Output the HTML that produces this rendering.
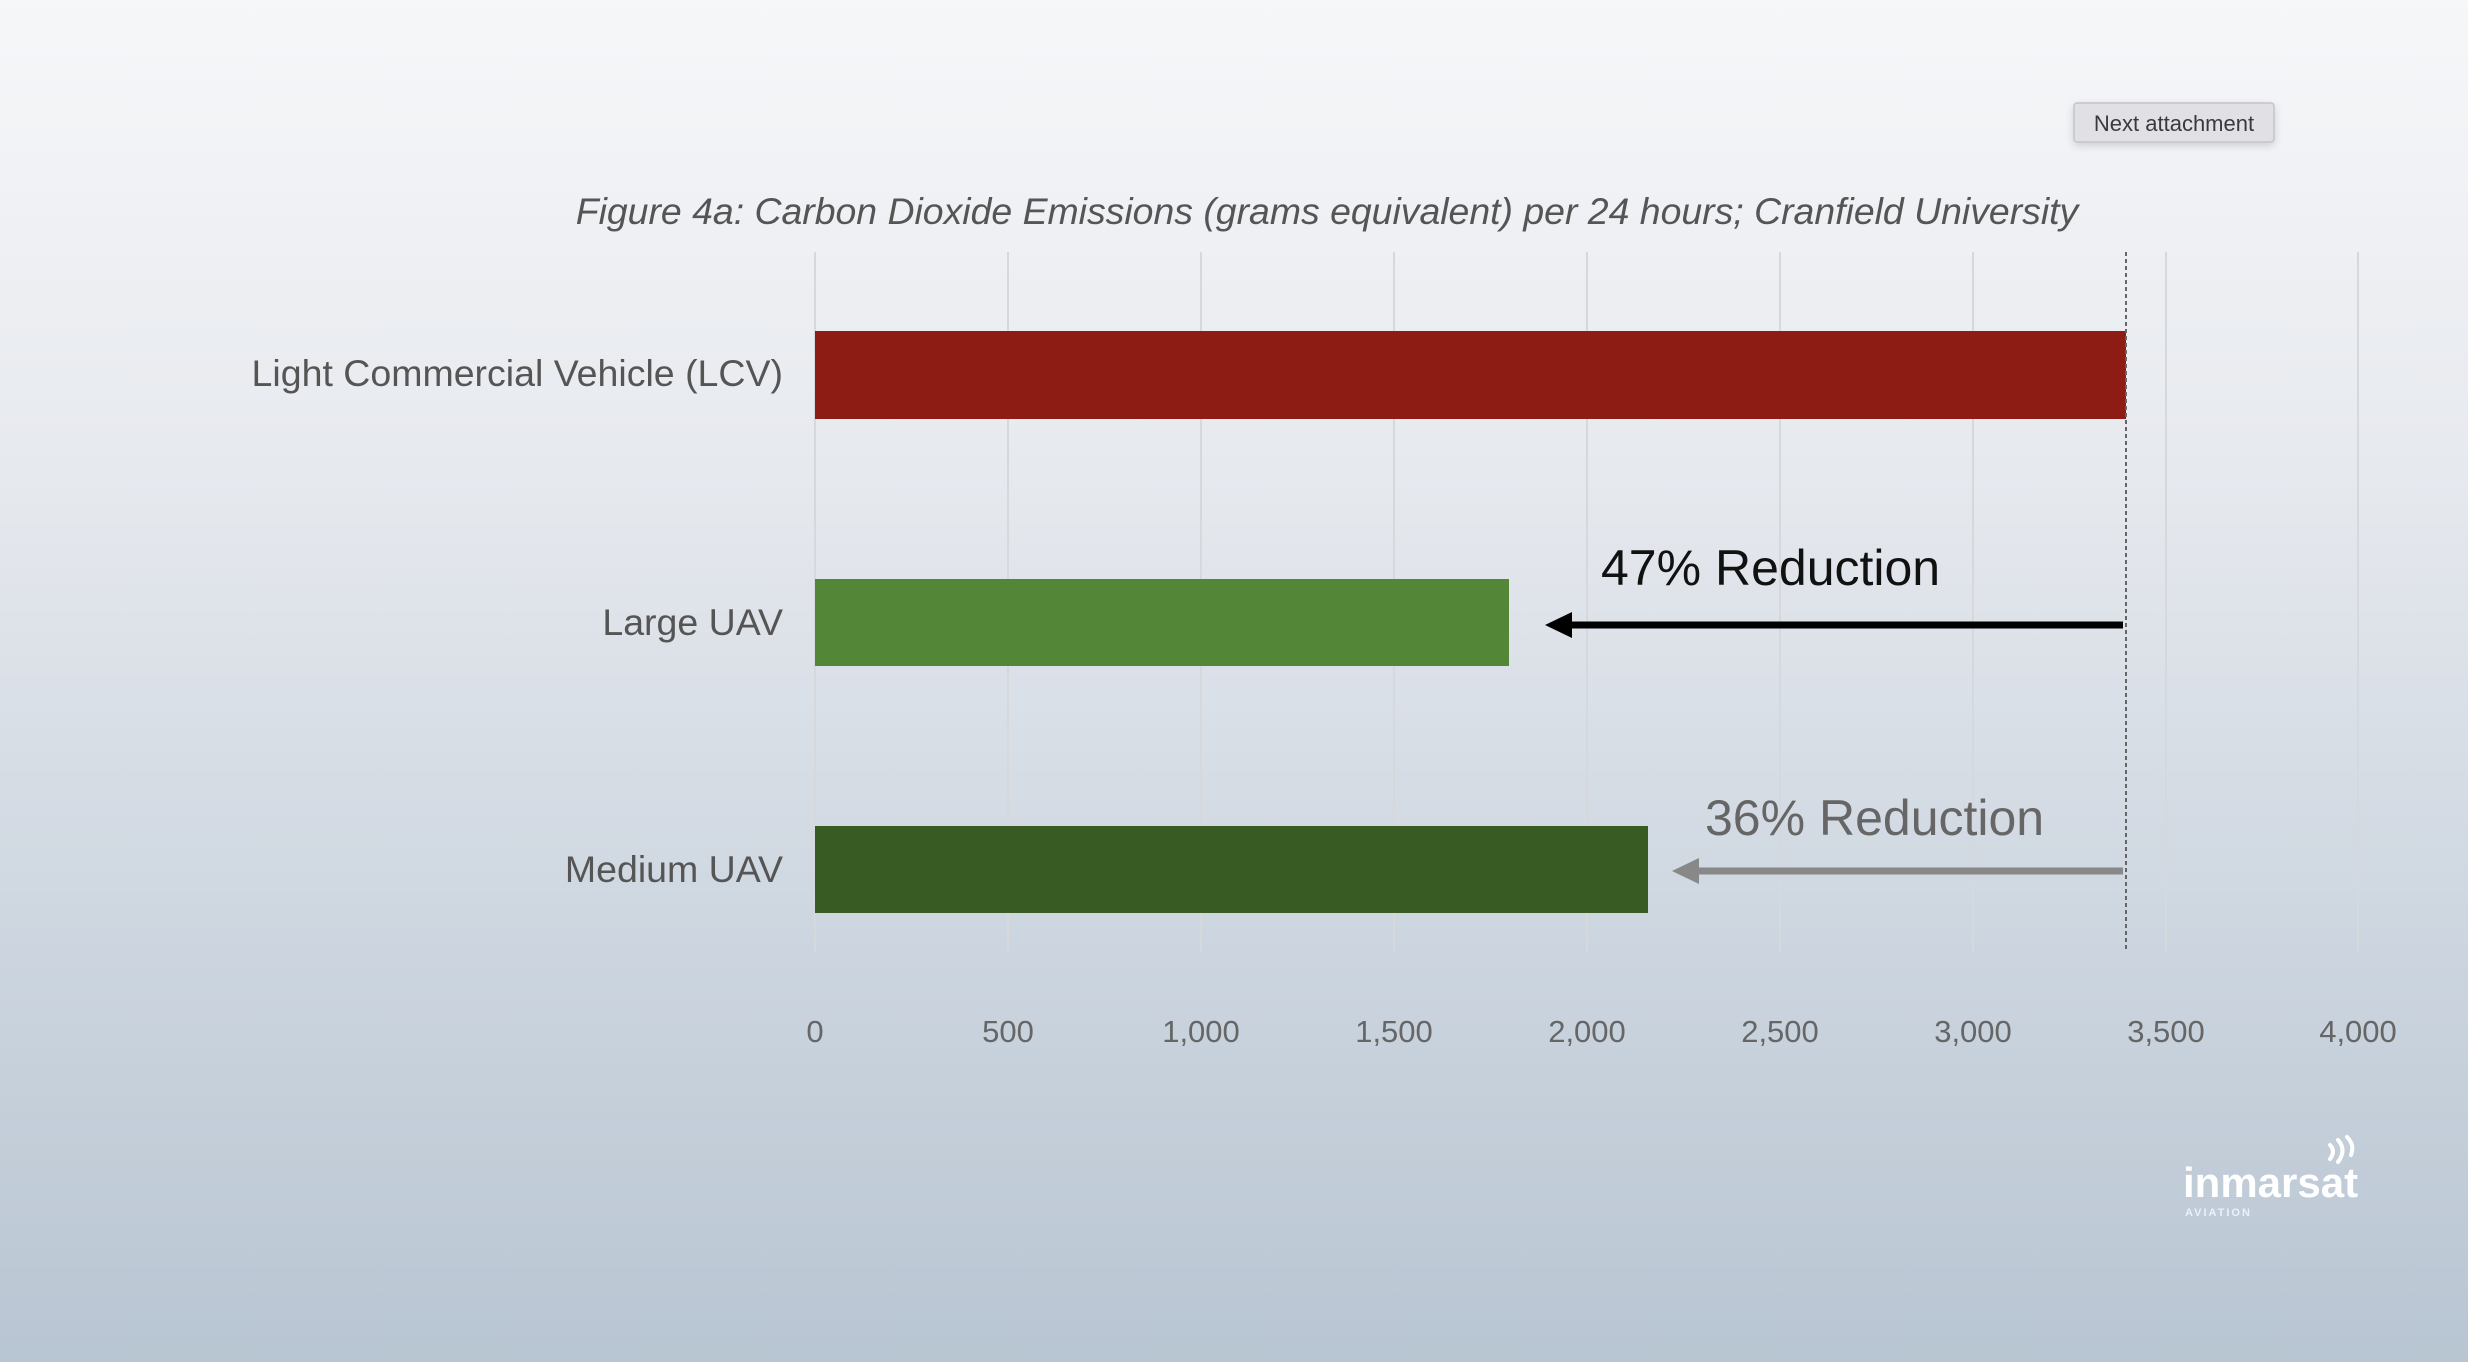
<!DOCTYPE html>
<html><head><meta charset="utf-8"><style>
html,body{margin:0;padding:0;}
body{width:2468px;height:1362px;overflow:hidden;background:linear-gradient(#f6f7f9 0%,#e6e9ee 35%,#ccd5df 70%,#b8c5d2 100%);font-family:"Liberation Sans",sans-serif;}
</style></head><body>
<svg width="2468" height="1362" xmlns="http://www.w3.org/2000/svg" style="position:absolute;left:0;top:0">
<defs><filter id="sh" x="-20%" y="-50%" width="140%" height="200%"><feDropShadow dx="0" dy="3" stdDeviation="4" flood-color="#000" flood-opacity="0.15"/></filter></defs>
<rect x="2074" y="103" width="200" height="39" rx="3" fill="#e1e0e4" stroke="#c4c4c8" stroke-width="1.5" filter="url(#sh)"/>
<text x="2174" y="131" font-size="22" fill="#3a3a3c" text-anchor="middle">Next attachment</text>
<text x="1327" y="224" font-size="37.4" font-style="italic" fill="#555" text-anchor="middle">Figure 4a: Carbon Dioxide Emissions (grams equivalent) per 24 hours; Cranfield University</text>
<g stroke="#d6d8dc" stroke-width="2">
<line x1="815" y1="252" x2="815" y2="952"/><line x1="1008" y1="252" x2="1008" y2="952"/><line x1="1201" y1="252" x2="1201" y2="952"/><line x1="1394" y1="252" x2="1394" y2="952"/><line x1="1587" y1="252" x2="1587" y2="952"/><line x1="1780" y1="252" x2="1780" y2="952"/><line x1="1973" y1="252" x2="1973" y2="952"/><line x1="2166" y1="252" x2="2166" y2="952"/><line x1="2358" y1="252" x2="2358" y2="952"/>
</g>
<rect x="815" y="331" width="1311" height="88" fill="#8c1c14"/>
<rect x="815" y="579" width="694" height="87" fill="#548638"/>
<rect x="815" y="826" width="833" height="87" fill="#385b24"/>
<line x1="2126" y1="252" x2="2126" y2="952" stroke="#666" stroke-width="2" stroke-dasharray="4,3"/>
<g font-size="37.5" fill="#555" text-anchor="end">
<text x="783" y="386">Light Commercial Vehicle (LCV)</text>
<text x="783" y="635">Large UAV</text>
<text x="783" y="882">Medium UAV</text>
</g>
<g font-size="31" fill="#666" text-anchor="middle">
<text x="815" y="1042">0</text><text x="1008" y="1042">500</text><text x="1201" y="1042">1,000</text><text x="1394" y="1042">1,500</text><text x="1587" y="1042">2,000</text><text x="1780" y="1042">2,500</text><text x="1973" y="1042">3,000</text><text x="2166" y="1042">3,500</text><text x="2358" y="1042">4,000</text>
</g>
<text x="1601" y="585" font-size="50" fill="#111">47% Reduction</text>
<line x1="1565" y1="625" x2="2123" y2="625" stroke="#000" stroke-width="7"/>
<polygon points="1545,625 1572,612 1572,638" fill="#000"/>
<text x="1705" y="835" font-size="50" fill="#666">36% Reduction</text>
<line x1="1690" y1="871" x2="2123" y2="871" stroke="#888" stroke-width="7"/>
<polygon points="1672,871 1699,858 1699,884" fill="#888"/>
<text x="2183" y="1197" font-size="42" font-weight="bold" fill="#fff">inmarsat</text>
<text x="2185" y="1216" font-size="11" font-weight="bold" fill="#eef" letter-spacing="2">AVIATION</text>
<g fill="none" stroke="#fff" stroke-width="4" stroke-linecap="round">
<path d="M2330 1145 q6 6 0 14"/><path d="M2338 1140 q9 10 0 22"/><path d="M2347 1137 q8 8 4 18"/>
</g>
</svg>
</body></html>
